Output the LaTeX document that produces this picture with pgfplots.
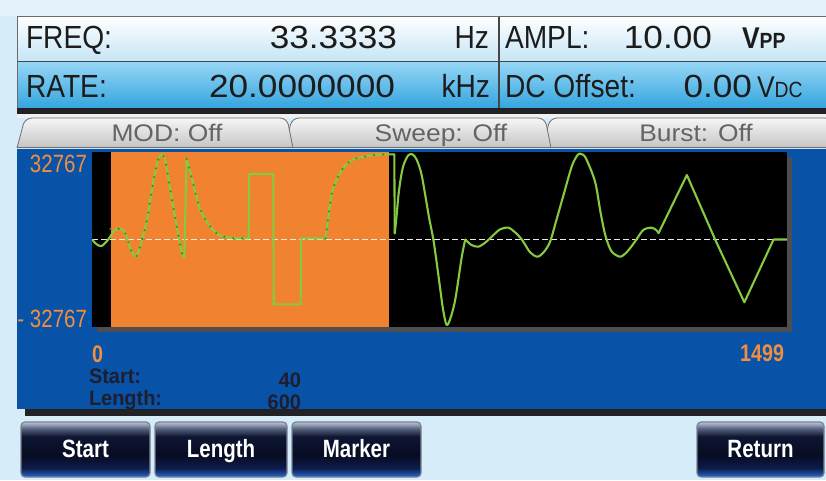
\documentclass[border=0pt]{standalone}
\usepackage{pgfplots}
\pgfplotsset{compat=1.18}
\usepackage{fontspec}
\setmainfont{Liberation Sans}
\newfontfamily\hdr[FakeStretch=0.88]{Liberation Sans}
\newfontfamily\hnum[FakeStretch=1.1]{Liberation Sans}
\newfontfamily\cnd[FakeStretch=0.82]{Liberation Sans}
\newfontfamily\cndb[FakeStretch=0.95]{Liberation Sans}

\definecolor{bgblue}{RGB}{214,236,248}
\definecolor{bgtop}{RGB}{228,242,251}
\definecolor{panelblue}{RGB}{8,82,168}
\definecolor{wforange}{RGB}{240,130,48}
\definecolor{wfgreen}{RGB}{134,202,64}
\definecolor{wfdot}{RGB}{60,140,40}
\definecolor{lbl}{RGB}{242,142,62}
\definecolor{rowtop}{RGB}{150,214,245}
\definecolor{rowbot}{RGB}{50,164,222}
\definecolor{frtop}{RGB}{255,255,255}
\definecolor{frbot}{RGB}{198,229,246}
\definecolor{txt}{RGB}{28,28,28}
\definecolor{tabtxt}{RGB}{100,100,100}
\definecolor{tabtop}{RGB}{246,246,246}
\definecolor{tabbot}{RGB}{196,196,196}
\definecolor{tabline}{RGB}{110,110,110}
\definecolor{hdrline}{RGB}{70,70,70}
\definecolor{darkbar}{RGB}{34,34,38}
\definecolor{shadowgray}{RGB}{78,78,80}
\definecolor{darktxt}{RGB}{30,30,44}
\definecolor{btnb}{RGB}{40,104,208}
\definecolor{btnd}{RGB}{14,28,76}
\definecolor{btnk}{RGB}{7,12,34}
\definecolor{btnk2}{RGB}{14,22,50}
\definecolor{btnm}{RGB}{88,98,126}
\definecolor{btnt}{RGB}{190,198,212}
\definecolor{btnline}{RGB}{120,130,146}

\pgfdeclareverticalshading{btnshade}{100bp}{color(0bp)=(btnb); color(25bp)=(btnb); color(33bp)=(btnd); color(45bp)=(btnk); color(62bp)=(btnk2); color(69bp)=(btnm); color(75bp)=(btnt); color(100bp)=(btnt)}

\newcommand{\T}[4]{\node[anchor=#3,inner sep=0pt,outer sep=0pt] at (#1,#2) {#4};}
\newcommand{\btn}[3]{%
  \path[shade, shading=btnshade, draw=btnline, line width=1.2pt, rounded corners=4pt] (#1,422) rectangle (#2,477);
  \node[anchor=base,inner sep=0pt,text=white] at ({(#1+#2)/2},457) {\cnd\bfseries\fontsize{25}{25}\selectfont #3};}

\begin{document}
\begin{tikzpicture}
\begin{scope}[x=1pt,y=-1pt]
\useasboundingbox (0,0) rectangle (826,480);
\fill[bgblue] (0,0) rectangle (826,480);
\fill[bgtop] (0,0) rectangle (826,16);
% header rows
\shade[top color=frtop,bottom color=frbot] (17,16) rectangle (826,61);
\shade[top color=rowtop,bottom color=rowbot] (17,62) rectangle (826,109);
\draw[line width=1.6pt, hdrline] (17,61.5) -- (826,61.5);
\draw[line width=2pt, hdrline] (499,16) -- (499,109);
\draw[line width=1pt, hdrline!80] (826,16) -- (17,16) -- (17,109);
\fill[darkbar] (17,108) rectangle (826,114);
\fill[white!88!gray] (17,114) rectangle (826,118);
% tabs
\path[shade, top color=tabtop, bottom color=tabbot, draw=tabline, line width=0.8pt, rounded corners=7pt] (543,148) -- (550,118) -- (832,118) -- (832,148);
\path[shade, top color=tabtop, bottom color=tabbot, draw=tabline, line width=0.8pt, rounded corners=7pt] (285,148) -- (292,118) -- (545,118) -- (551,148);
\path[shade, top color=tabtop, bottom color=tabbot, draw=tabline, line width=0.8pt, rounded corners=7pt] (17,148) -- (25,118) -- (287,118) -- (293,148);
\draw[tabline, line width=1pt] (17,147.5) -- (826,147.5);
% blue panel
\fill[panelblue] (17,148.5) rectangle (826,409);
\fill[darkbar] (25,409) rectangle (826,416);
\fill[shadowgray] (97,157) rectangle (792,332);
% buttons
\btn{21}{150}{Start}
\btn{155}{287}{Length}
\btn{292}{421}{Marker}
\btn{697}{824}{Return}
\end{scope}

\begin{axis}[name=ax, at={(92pt,-327pt)}, anchor=south west,
  width=695pt, height=175pt, scale only axis,
  xmin=0, xmax=1499, ymin=-32767, ymax=32767,
  axis line style={draw=none}, ticks=none,
  axis background/.style={fill=black}, clip mode=individual]
% selected region: start 40, length 600
\addplot[fill=wforange, draw=none] coordinates {(40,-32767) (40,32767) (640,32767) (640,-32767)} -- cycle;
% centre line
\addplot[color=white!85!gray, line width=1pt, dash pattern=on 6pt off 3pt] coordinates {(0,0) (1499,0)};
% waveform
\pgfplotsset{wf/.style={color=wfgreen, line width=2.1pt, line join=round, line cap=round}}
\pgfplotsset{wfd/.style={color=wfdot, line width=2.4pt, line cap=round, dash pattern=on 0pt off 9pt}}
\pgfplotstableread{
x y
40 4000
48 3300
60 4200
72 2200
84 -4000
94 -6440
101 -4200
108 0
120 8540
132 21650
142 29500
150 31900
158 29500
166 21650
179 8540
188 0
194 -5000
199 -6670
}\segA
\pgfplotstableread{
x y
204 30150
213 24800
224 16660
237 9810
255 4800
272 1950
294 670
315 450
338 450
}\segC
\pgfplotstableread{
x y
504 450
510 9000
517 17000
524 21050
539 26030
557 29400
575 30630
610 31650
640 31900
}\segE
\addplot[wf, smooth] table {
0 0
10 -1800
21 -2430
35 0
48 3300
60 4200
72 2200
84 -4000
94 -6440
101 -4200
108 0
120 8540
132 21650
142 29500
150 31900
158 29500
166 21650
179 8540
188 0
194 -5000
199 -6670
};
\addplot[wf] table {
199 -6670
204 30150
};
\addplot[wf, smooth] table {\segC};
\addplot[wf] table {
338 450
339 24530
391 24530
392 -24270
450 -24270
451 450
504 450
};
\addplot[wf, smooth] table {\segE};
\addplot[wf] table {
640 31900
652 31900
653 2320
};
% darker dots drawn by the screen inside the selected region
\addplot[wfd, smooth] table {\segA};
\addplot[wfd, smooth] table {\segC};
\addplot[wfd, smooth] table {\segE};
\addplot[wf, smooth] table {
653 2320
657 9000
661 16660
666 23000
672 27900
682 31500
691 31900
700 30000
711 24150
726 9180
737 -820
748 -14530
757 -26000
765 -32000
774 -29000
784 -22000
797 -7040
805 0
};
\addplot[wf, smooth] table {
805 0
818 -2000
833 -2700
848 -1200
862 1050
880 3800
898 4420
913 2600
927 0
945 -4800
961 -6440
975 -4600
988 -820
1002 7500
1017 16660
1035 27500
1048 31800
1055 32000
1065 30500
1085 21650
1097 10000
1107 1690
1120 -4300
1139 -6440
1155 -4400
1171 -820
1189 3560
1207 4420
1217 3500
1222 2400
};
\addplot[wf] table {
1222 2400
1283 24150
1344 0
1407 -23520
1470 0
1499 0
};
\end{axis}

\begin{scope}[x=1pt,y=-1pt]
% header texts
\T{26}{48}{base west}{\color{txt}\hdr\fontsize{32}{32}\selectfont FREQ:}
\T{397}{48}{base east}{\color{txt}\hnum\fontsize{32}{32}\selectfont 33.3333}
\T{489}{48}{base east}{\color{txt}\hdr\fontsize{32}{32}\selectfont Hz}
\T{505}{48}{base west}{\color{txt}\hdr\fontsize{32}{32}\selectfont AMPL:}
\T{712}{48}{base east}{\color{txt}\hnum\fontsize{32}{32}\selectfont 10.00}
\T{742}{48}{base west}{\color{txt}\hdr\bfseries\fontsize{30}{30}\selectfont V{\fontsize{22}{22}\selectfont PP}}
\T{26}{97}{base west}{\color{txt}\hdr\fontsize{32}{32}\selectfont RATE:}
\T{395}{97}{base east}{\color{txt}\hnum\fontsize{32}{32}\selectfont 20.0000000}
\T{490}{97}{base east}{\color{txt}\hdr\fontsize{32}{32}\selectfont kHz}
\T{505}{97}{base west}{\color{txt}\hdr\fontsize{32}{32}\selectfont DC Offset:}
\T{752}{97}{base east}{\color{txt}\hnum\fontsize{32}{32}\selectfont 0.00}
\T{757}{97}{base west}{\color{txt}\hdr\fontsize{30}{30}\selectfont V{\fontsize{22}{22}\selectfont DC}}
% tabs
\T{167}{141}{base}{\color{tabtxt}\hnum\fontsize{24}{24}\selectfont MOD: Off}
\T{441}{141}{base}{\color{tabtxt}\hnum\fontsize{24}{24}\selectfont Sweep: Off}
\T{696}{141}{base}{\color{tabtxt}\hnum\fontsize{24}{24}\selectfont Burst: Off}
% axis labels
\T{87}{155}{north east}{\color{lbl}\cnd\fontsize{25}{25}\selectfont 32767}
\T{87}{328}{south east}{\color{lbl}\cnd\fontsize{25}{25}\selectfont - 32767}
\T{92}{346}{north west}{\color{lbl}\cnd\bfseries\fontsize{24}{24}\selectfont 0}
\T{784}{345}{north east}{\color{lbl}\cnd\bfseries\fontsize{24}{24}\selectfont 1499}
% start / length
\T{89}{383}{base west}{\color{darktxt}\cndb\bfseries\fontsize{21}{21}\selectfont Start:}
\T{89}{405}{base west}{\color{darktxt}\cndb\bfseries\fontsize{21}{21}\selectfont Length:}
\T{301}{387}{base east}{\color{darktxt}\cndb\bfseries\fontsize{21}{21}\selectfont 40}
\T{301}{409}{base east}{\color{darktxt}\cndb\bfseries\fontsize{21}{21}\selectfont 600}
\end{scope}
\end{tikzpicture}
\end{document}
